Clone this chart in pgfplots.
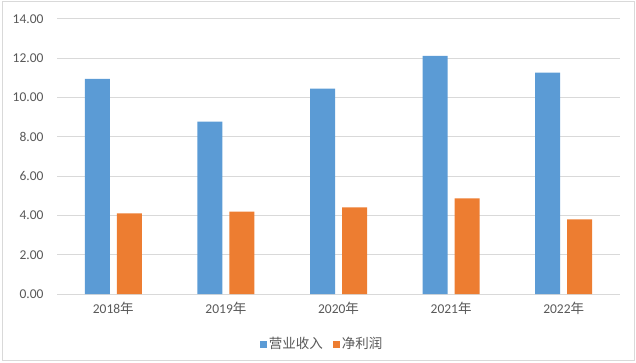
\documentclass[border=0pt]{standalone}
\usepackage{pgfplots}
\pgfplotsset{compat=1.18}
\usepackage{fontspec}
\setmainfont{Carlito}
\newfontfamily\cjk{Noto Sans CJK SC}
\definecolor{cblue}{HTML}{5B9BD5}
\definecolor{corange}{HTML}{ED7D31}
\definecolor{cgrid}{HTML}{D9D9D9}
\definecolor{ctext}{HTML}{595959}
\begin{document}
\begin{tikzpicture}[x=1pt,y=1pt]
\path[use as bounding box] (0,0) rectangle (636,362);
\draw[cgrid, line width=1pt] (2.5,1.5) rectangle (634,360);
\begin{axis}[
  at={(57pt,68pt)}, anchor=south west,
  scale only axis, width=563pt, height=275pt,
  ybar=7pt, bar width=25pt,
  xmin=-0.5, xmax=4.5, ymin=0, ymax=14,
  ytick={0,2,...,14},
  xtick=data,
  xticklabels={2018{\cjk 年},2019{\cjk 年},2020{\cjk 年},2021{\cjk 年},2022{\cjk 年}},
  yticklabel={\pgfmathprintnumber[fixed,fixed zerofill,precision=2]{\tick}},
  /pgf/number format/assume math mode=true,
  ymajorgrids, grid style={cgrid, line width=1pt},
  axis x line*=bottom, axis y line*=left,
  x axis line style={cgrid, line width=1pt, -},
  y axis line style={draw=none},
  major tick length=0pt,
  tick label style={font=\fontsize{13.5}{16}\selectfont, text=ctext},
  yticklabel style={xshift=-10pt},
  xticklabel style={yshift=-5pt},
  legend style={at={(265pt,-50pt)}, anchor=center, draw=none, legend columns=2,
    font=\fontsize{13.5}{16}\selectfont\cjk, text=ctext,
    /tikz/every even column/.append style={column sep=8pt}},
  legend image code/.code={\fill[#1] (0pt,-3.5pt) rectangle (7pt,3.5pt);},
  clip=false,
]
\addplot[fill=cblue, draw=none] coordinates {(0,10.95) (1,8.77) (2,10.45) (3,12.12) (4,11.27)};
\addplot[fill=corange, draw=none] coordinates {(0,4.11) (1,4.19) (2,4.41) (3,4.87) (4,3.80)};
\legend{营业收入,净利润}
\end{axis}
\end{tikzpicture}
\end{document}
